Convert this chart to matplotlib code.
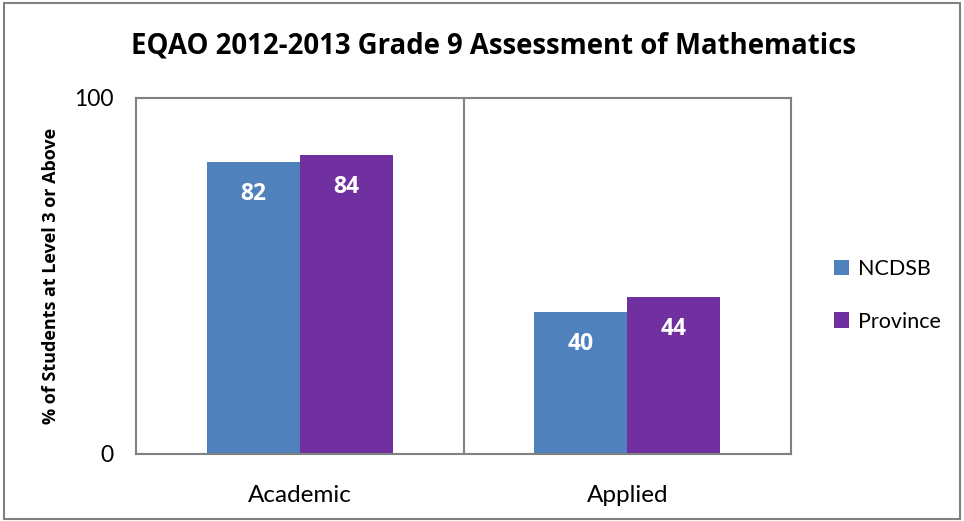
import matplotlib.pyplot as plt
import numpy as np

categories = ["Academic", "Applied"]
ncdsb = [82, 40]
province = [84, 44]
series_names = ["NCDSB", "Province"]

plt.rcParams['font.family'] = ['Lato', 'DejaVu Sans']
BOLD = ['Open Sans', 'DejaVu Sans']

fig = plt.figure(figsize=(9.64, 5.21), dpi=100)
ax = fig.add_axes([136/964, 1-454/521, 655/964, 356/521])

x = np.arange(len(categories))
w = 0.284
b1 = ax.bar(x - w/2, ncdsb, w, color="#4F81BD", label=series_names[0], linewidth=0)
b2 = ax.bar(x + w/2, province, w, color="#7030A0", label=series_names[1], linewidth=0)

for bars in (b1, b2):
    for r in bars:
        ax.text(r.get_x() + r.get_width()/2, r.get_height() - 9, f"{r.get_height():.0f}",
                ha="center", va="center", color="white", fontsize=16.5,
                fontweight="bold", family=BOLD)

ax.set_xlim(-0.5, 1.5)
ax.set_ylim(0, 100)
ax.set_yticks([0, 100])
ax.set_xticks(x)
ax.set_xticklabels(categories, fontsize=17.5)
ax.tick_params(axis="y", labelsize=16.5, length=0, pad=16)
ax.tick_params(axis="x", length=0, pad=22)
ax.axvline(0.5, color="#808080", linewidth=1.5)
for s in ax.spines.values():
    s.set_color("#808080")
    s.set_linewidth(1.5)

ax.set_ylabel("% of Students at Level 3 or Above", fontsize=13, fontweight="bold",
              family=BOLD, labelpad=10)
fig.text(0.512, 0.912, "EQAO 2012-2013 Grade 9 Assessment of Mathematics",
         ha="center", va="center", fontsize=19.8, fontweight="bold", family=BOLD)

fig.legend(handles=[b1, b2], loc="center left", bbox_to_anchor=(0.845, 0.433),
           frameon=False, fontsize=15.5, handlelength=0.7, handleheight=0.7,
           labelspacing=1.5, handletextpad=0.4)

border = plt.Rectangle((0.004, 0.004), 0.992, 0.99, transform=fig.transFigure,
                       fill=False, edgecolor="#808080", linewidth=1.5)
fig.patches.append(border)

fig.savefig("out.png", dpi=100)
